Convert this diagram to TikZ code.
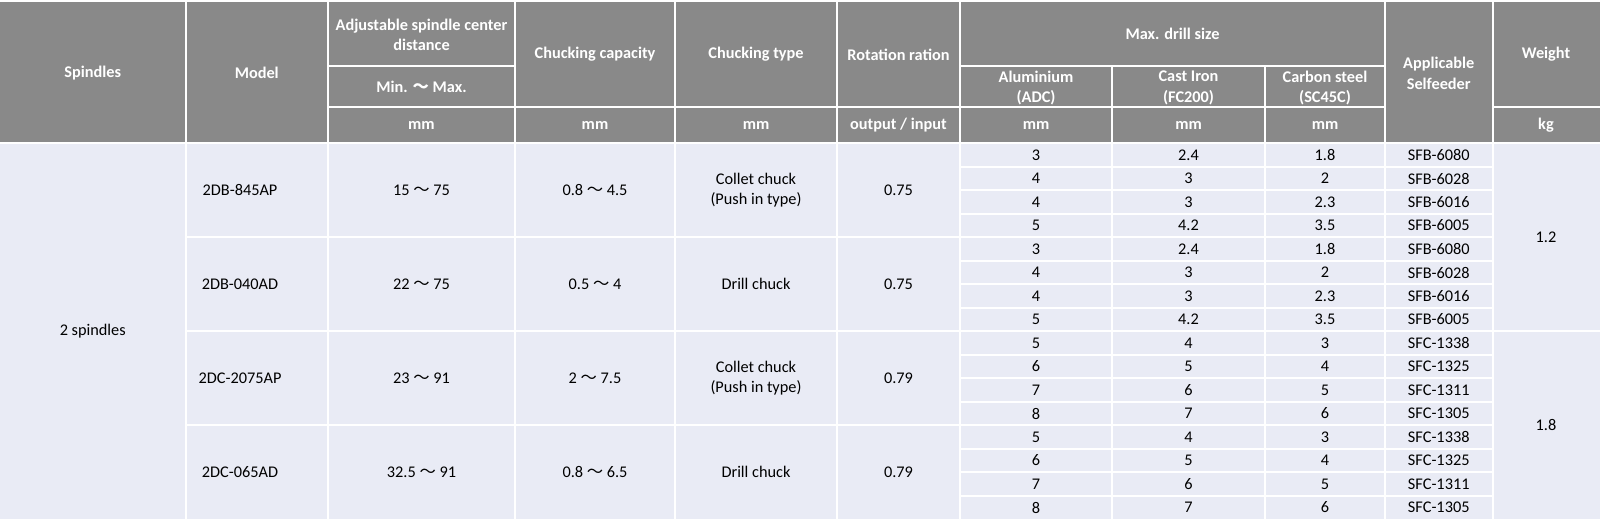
\documentclass[tikz,border=0pt]{standalone}
\usepackage{fontspec}
\setmainfont{Carlito}
\newfontfamily\cjk{Noto Sans CJK JP}
\newcommand{\wave}{{\cjk 〜}}
\definecolor{hdr}{HTML}{898989}
\definecolor{cellbg}{HTML}{E9EBF5}
\begin{document}
\begin{tikzpicture}[x=1pt,y=-1pt,
  hd/.style={font=\bfseries\fontsize{16.3}{20.5}\selectfont, text=white, align=center, inner sep=0pt},
  dt/.style={font=\fontsize{16.3}{20.5}\selectfont, text=black, align=center, inner sep=0pt},
  grid/.style={draw=white, line width=2pt}]
\useasboundingbox (0,0) rectangle (1600,521);
\fill[white] (0,0) rectangle (1600,521);
% backgrounds
\fill[hdr] (0,2) rectangle (1600,143.3);
\fill[cellbg] (0,143.3) rectangle (1600,519.3);
% header grid
\foreach \c in {185.5,328,515,675,837,960,1385,1492.5}
  \draw[grid] (\c,2) -- (\c,519.3);
\foreach \c in {1112,1265}
  \draw[grid] (\c,65.7) -- (\c,519.3);
\draw[grid] (328,65.7) -- (515,65.7);
\draw[grid] (960,65.7) -- (1385,65.7);
\draw[grid] (328,106.7) -- (1385,106.7);
\draw[grid] (1492.5,106.7) -- (1600,106.7);
\draw[grid] (0,143.3) -- (1600,143.3);
% data grid
\foreach \k in {4,12}
  \draw[grid] (185.5,{143.3+23.5*\k}) -- (1492.5,{143.3+23.5*\k});
\draw[grid] (185.5,{143.3+23.5*8}) -- (1600,{143.3+23.5*8});
\foreach \k in {1,2,3,5,6,7,9,10,11,13,14,15}
  \draw[grid] (960,{143.3+23.5*\k}) -- (1492.5,{143.3+23.5*\k});
% header texts
\node[hd] (hsp) at (92.75,73) {Spindles};
\node[hd] (hmo) at (256.75,73) {Model};
\node[hd] (hadj) at (421.5,35) {Adjustable spindle center\\distance};
\node[hd] (hmm1) at (421.5,86.5) {Min. {\cjk\bfseries 〜} Max.};
\node[hd] (hu1) at (421.5,125) {mm};
\node[hd] (hcc) at (595,54.5) {Chucking capacity};
\node[hd] (hu2) at (595,125) {mm};
\node[hd] (hct) at (756,54.5) {Chucking type};
\node[hd] (hu3) at (756,125) {mm};
\node[hd] (hrr) at (898.5,54.5) {Rotation ration};
\node[hd] (hu4) at (898.5,125) {output / input};
\node[hd] (hmd) at (1172.5,34) {Max. drill size};
\node[hd] (hal) at (1036,88) {Aluminium\\(ADC)};
\node[hd] (hci) at (1188.5,88) {Cast Iron\\(FC200)};
\node[hd] (hcs) at (1325,88) {Carbon steel\\(SC45C)};
\node[hd] (hu5) at (1036,125) {mm};
\node[hd] (hu6) at (1188.5,125) {mm};
\node[hd] (hu7) at (1325,125) {mm};
\node[hd] (hap) at (1438.75,73.5) {Applicable\\Selfeeder};
\node[hd] (hwt) at (1546,54.5) {Weight};
\node[hd] (hu8) at (1546,125) {kg};
% data texts
\node[dt] (dsp) at (92.75,331.3) {2 spindles};
\foreach \mo/\ad/\cp/\ty/\ro [count=\g from 0] in {
  2DB-845AP/15 \wave{} 75/0.8 \wave{} 4.5/{Collet chuck\\(Push in type)}/0.75,
  2DB-040AD/22 \wave{} 75/0.5 \wave{} 4/Drill chuck/0.75,
  2DC-2075AP/23 \wave{} 91/2 \wave{} 7.5/{Collet chuck\\(Push in type)}/0.79,
  2DC-065AD/32.5 \wave{} 91/0.8 \wave{} 6.5/Drill chuck/0.79} {
  \node[dt] (mo\g) at (240,{190.3+94*\g}) {\mo};
  \node[dt] (ad\g) at (421.5,{190.3+94*\g}) {\ad};
  \node[dt] (cp\g) at (595,{190.3+94*\g}) {\cp};
  \node[dt] (ty\g) at (756,{190.3+94*\g}) {\ty};
  \node[dt] (ro\g) at (898.5,{190.3+94*\g}) {\ro};
}
\foreach \al/\ci/\cs/\sf [count=\i from 0] in {
  3/2.4/1.8/SFB-6080, 4/3/2/SFB-6028, 4/3/2.3/SFB-6016, 5/4.2/3.5/SFB-6005,
  3/2.4/1.8/SFB-6080, 4/3/2/SFB-6028, 4/3/2.3/SFB-6016, 5/4.2/3.5/SFB-6005,
  5/4/3/SFC-1338, 6/5/4/SFC-1325, 7/6/5/SFC-1311, 8/7/6/SFC-1305,
  5/4/3/SFC-1338, 6/5/4/SFC-1325, 7/6/5/SFC-1311, 8/7/6/SFC-1305} {
  \node[dt] (al\i) at (1036,{155.05+23.5*\i}) {\al};
  \node[dt] (ci\i) at (1188.5,{155.05+23.5*\i}) {\ci};
  \node[dt] (cs\i) at (1325,{155.05+23.5*\i}) {\cs};
  \node[dt] (sf\i) at (1438.75,{155.05+23.5*\i}) {\sf};
}
\node[dt] (w1) at (1546,237.3) {1.2};
\node[dt] (w2) at (1546,425.3) {1.8};
\end{tikzpicture}
\end{document}
